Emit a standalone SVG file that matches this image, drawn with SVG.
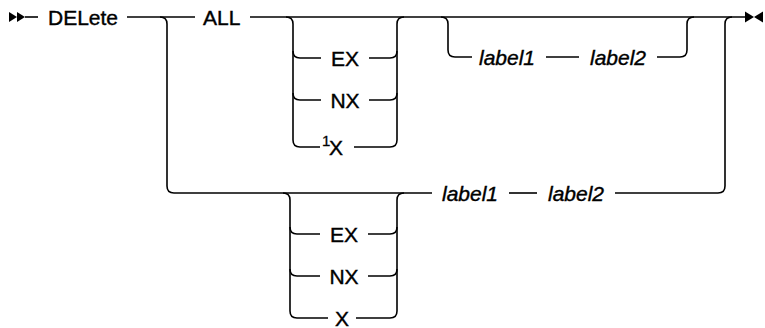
<svg xmlns="http://www.w3.org/2000/svg" width="765" height="328" viewBox="0 0 765 328">
<style>
.ln{fill:none;stroke:#000;stroke-width:1.6}
.t{font-family:"Liberation Sans",Arial,sans-serif;font-size:21px;fill:#000;stroke:#000;stroke-width:0.4}
.v{font-style:italic}
.m{text-anchor:middle}
.s{font-family:"Liberation Sans",Arial,sans-serif;font-size:15px;fill:#000;stroke:#000;stroke-width:0.3}
</style>
<rect width="765" height="328" fill="#fff"/>
<g id="connectors">
<polygon points="9,12 17,17 9,22" fill="#000"/>
<polygon points="17,12 25,17 17,22" fill="#000"/>
<path class="ln" d="M25 17H38"/>
<path class="ln" d="M127 17H195"/>
<path class="ln" d="M250 17H746"/>
<polygon points="745,11.5 754,17 745,22.5" fill="#000"/>
<polygon points="763,11.5 754,17 763,22.5" fill="#000"/>
<path class="ln" d="M160 17Q167 17 167 24V186Q167 193 174 193H432"/>
<path class="ln" d="M615 193H718Q725 193 725 186V24Q725 17 732 17"/>
<path class="ln" d="M286 17Q293 17 293 24V140Q293 147 300 147"/>
<path class="ln" d="M293 51Q293 58 300 58H321M369 58H390Q397 58 397 51"/>
<path class="ln" d="M293 93Q293 100 300 100H321M369 100H390Q397 100 397 93"/>
<path class="ln" d="M300 147H320M354 147H390Q397 147 397 140V24Q397 17 404 17"/>
<path class="ln" d="M441 17Q448 17 448 24V50Q448 57 455 57H472M546 57H579M657 57H680Q687 57 687 50V24Q687 17 694 17"/>
<path class="ln" d="M283 193Q290 193 290 200V311Q290 318 297 318"/>
<path class="ln" d="M290 227Q290 234 297 234H320M368 234H390Q397 234 397 227"/>
<path class="ln" d="M290 269Q290 276 297 276H320M368 276H390Q397 276 397 269"/>
<path class="ln" d="M297 318H328M356 318H390Q397 318 397 311V200Q397 193 404 193"/>
<path class="ln" d="M509 193H537"/>
</g>
<g id="n-delete"><text class="t" x="48" y="24.5">DELete</text></g>
<g id="n-all"><text class="t" x="203" y="24.5">ALL</text></g>
<g id="n-ex1"><text class="t m" x="345" y="65.5">EX</text></g>
<g id="n-nx1"><text class="t m" x="345" y="107.5">NX</text></g>
<g id="n-x1"><text class="s" x="322" y="146">1</text><text class="t" x="329" y="154.5">X</text></g>
<g id="n-label1a"><text class="t v" x="479" y="64.5">label1</text></g>
<g id="n-label2a"><text class="t v" x="590" y="64.5">label2</text></g>
<g id="n-ex2"><text class="t m" x="344" y="241.5">EX</text></g>
<g id="n-nx2"><text class="t m" x="344" y="283.5">NX</text></g>
<g id="n-x2"><text class="t m" x="342" y="325.5">X</text></g>
<g id="n-label1b"><text class="t v" x="442" y="200.5">label1</text></g>
<g id="n-label2b"><text class="t v" x="548" y="200.5">label2</text></g>
</svg>
